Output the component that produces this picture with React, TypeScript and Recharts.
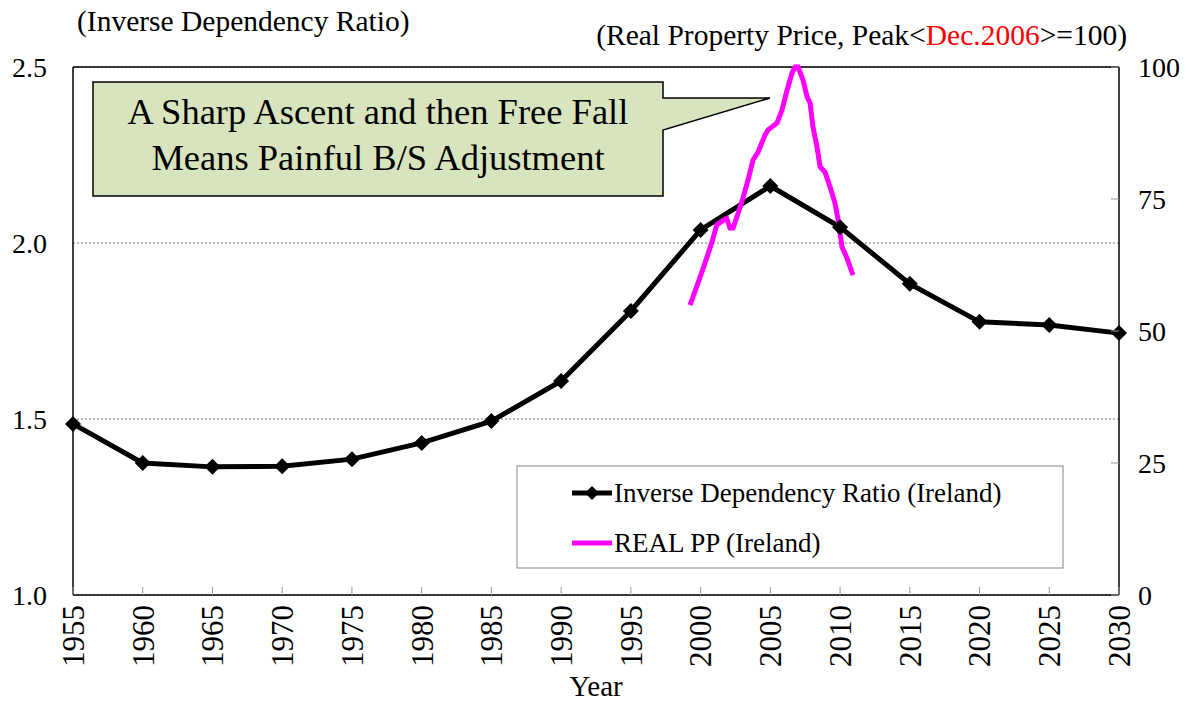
import { LineChart, Line, XAxis, YAxis, CartesianGrid, ReferenceLine } from "recharts"

const FONT = "'Liberation Serif', 'Times New Roman', serif"

// inverse dependency ratio, every 5 years
const years = [1955, 1960, 1965, 1970, 1975, 1980, 1985, 1990, 1995, 2000, 2005, 2010, 2015, 2020, 2025, 2030]
const inverseDependency = [1.486, 1.375, 1.364, 1.366, 1.386, 1.432, 1.494, 1.608, 1.807, 2.037, 2.162, 2.045, 1.884, 1.776, 1.767, 1.744]

// real property price, peak (Dec 2006) = 100
const ppDates = [
  1999.24, 1999.72, 2000.32, 2000.8, 2001.16, 2001.63, 2001.87, 2002.11, 2002.33, 2002.69,
  2003.04, 2003.4, 2003.76, 2004.12, 2004.62, 2004.84, 2005.48, 2005.84, 2006.2, 2006.56,
  2006.78, 2006.99, 2007.35, 2007.64, 2007.85, 2008.06, 2008.35, 2008.57, 2008.92, 2009.28,
  2009.64, 2009.86, 2010.14, 2010.5, 2010.72, 2010.93,
]
const ppValues = [
  54.9, 58.4, 62.9, 66.7, 70.1, 71.0, 71.3, 69.5, 69.5, 72.3,
  75.2, 78.6, 82.4, 83.9, 87.1, 88.1, 89.4, 91.9, 95.6, 98.9,
  100, 100, 97.5, 94.3, 93.2, 88.6, 84.8, 81.1, 80.1, 77.3,
  74.2, 71.0, 65.9, 63.8, 62.1, 60.6,
]

const leftTicks = [1.0, 1.5, 2.0, 2.5]
const rightTicks = [0, 25, 50, 75, 100]

const idrData = years.map((year, i) => ({ year, idr: inverseDependency[i] }))
const ppData = ppDates.map((year, i) => ({ year, pp: ppValues[i] }))

const Diamond = (props: any) => {
  const { cx, cy } = props
  if (cx == null || cy == null) return null
  const r = 8
  return (
    <polygon
      key={`d-${cx}`}
      points={`${cx},${cy - r} ${cx + r},${cy} ${cx},${cy + r} ${cx - r},${cy}`}
      fill="#000"
    />
  )
}

const XTick = ({ x, y, payload }: any) => (
  <g>
    <line x1={x} x2={x} y1={y} y2={y - 8} stroke="#999" />
    <text
      x={x}
      y={y + 10}
      transform={`rotate(-90 ${x} ${y + 10})`}
      textAnchor="end"
      dy="0.35em"
      fontSize={31}
      fontFamily={FONT}
      fill="#000"
    >
      {payload.value}
    </text>
  </g>
)

const LeftTick = ({ x, y, payload }: any) => (
  <text x={x - 26} y={y} dy="0.35em" textAnchor="end" fontSize={28} fontFamily={FONT} fill="#000">
    {Number(payload.value).toFixed(1)}
  </text>
)

const RightTick = ({ x, y, payload }: any) => (
  <g>
    <line x1={x - 8} x2={x} y1={y} y2={y} stroke="#999" />
    <text x={x + 19} y={y} dy="0.35em" textAnchor="start" fontSize={28} fontFamily={FONT} fill="#000">
      {payload.value}
    </text>
  </g>
)

export default function App() {
  return (
    <div style={{ position: "absolute", left: 0, top: 0, width: 1191, height: 704, background: "#fff" }}>
      <LineChart width={1191} height={704} margin={{ top: 67, right: 0, bottom: 0, left: 0 }}>
        <CartesianGrid yAxisId="left" vertical={false} stroke="#777" strokeDasharray="2 2" />
        <XAxis
          dataKey="year"
          type="number"
          domain={[1955, 2030]}
          ticks={years}
          allowDuplicatedCategory={false}
          height={109}
          tickSize={0}
          tickMargin={0}
          tick={<XTick />}
          axisLine={{ stroke: "#000", strokeWidth: 1.5 }}
          label={{ value: "Year", position: "insideBottom", offset: 8, fontSize: 29, fontFamily: FONT, fill: "#000" }}
        />
        <YAxis
          yAxisId="left"
          domain={[1, 2.5]}
          ticks={leftTicks}
          width={73}
          tickSize={0}
          tickMargin={0}
          tickLine={false}
          tick={<LeftTick />}
          axisLine={{ stroke: "#000", strokeWidth: 1.5 }}
        />
        <YAxis
          yAxisId="right"
          orientation="right"
          domain={[0, 100]}
          ticks={rightTicks}
          width={72}
          tickSize={0}
          tickMargin={0}
          tick={<RightTick />}
          axisLine={{ stroke: "#000", strokeWidth: 1.5 }}
        />
        <ReferenceLine yAxisId="left" y={2.5} stroke="#000" strokeWidth={1.5} />
        <Line
          yAxisId="left"
          data={idrData}
          dataKey="idr"
          type="linear"
          stroke="#000"
          strokeWidth={5}
          dot={<Diamond />}
          isAnimationActive={false}
        />
        <Line
          yAxisId="right"
          data={ppData}
          dataKey="pp"
          type="linear"
          stroke="#ff00ff"
          strokeWidth={5}
          dot={false}
          isAnimationActive={false}
        />
      </LineChart>

      <svg
        width={1191}
        height={704}
        style={{ position: "absolute", left: 0, top: 0, pointerEvents: "none" }}
        fontFamily={FONT}
      >
        <text x={77} y={31} fontSize={29.5} fill="#000">(Inverse Dependency Ratio)</text>
        <text x={1127} y={45} fontSize={29.5} fill="#000" textAnchor="end">
          (Real Property Price, Peak&lt;<tspan fill="#ff0000">Dec.2006</tspan>&gt;=100)
        </text>

        {/* callout */}
        <path
          d="M93,82 L663,82 L663,98 L770,98 L663,130 L663,196 L93,196 Z"
          fill="#d7e4bd"
          stroke="#000"
          strokeWidth={1.5}
        />
        <text x={378} y={124} fontSize={36.5} textAnchor="middle" fill="#000">A Sharp Ascent and then Free Fall</text>
        <text x={378} y={170} fontSize={36.5} textAnchor="middle" fill="#000">Means Painful B/S Adjustment</text>

        {/* legend */}
        <rect x={517} y={466} width={546} height={102} fill="#fff" stroke="#888" strokeWidth={1} />
        <line x1={572} x2={612} y1={493} y2={493} stroke="#000" strokeWidth={5} />
        <polygon points="592,486 599,493 592,500 585,493" fill="#000" />
        <text x={614} y={502} fontSize={27} fill="#000">Inverse Dependency Ratio (Ireland)</text>
        <line x1={572} x2={612} y1={543} y2={543} stroke="#ff00ff" strokeWidth={5} />
        <text x={614} y={552} fontSize={27} fill="#000">REAL PP (Ireland)</text>
      </svg>
    </div>
  )
}
